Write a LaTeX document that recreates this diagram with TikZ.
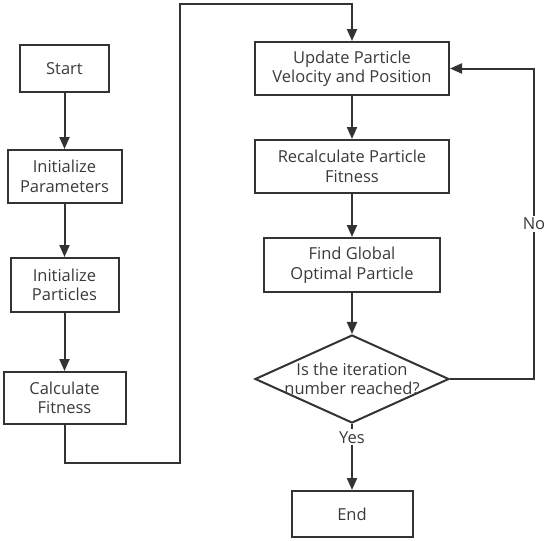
\documentclass[tikz,border=0pt]{standalone}
\usepackage{fontspec}
\setmainfont{Open Sans}
\usetikzlibrary{shapes.geometric,arrows.meta}
\definecolor{linegray}{HTML}{333333}
\definecolor{textgray}{HTML}{3A3A3A}
\tikzset{
  stepbox/.style={draw=linegray, line width=2pt, align=center, inner sep=0pt,
    text=textgray, font=\fontsize{16.5}{19.5}\selectfont},
  decision/.style={draw=linegray, line width=2pt, diamond, aspect=2.2, inner sep=0pt,
    minimum width=194pt, minimum height=88pt},
  arr/.style={draw=linegray, line width=2pt, -{Triangle[length=12pt,width=10pt]}},
  lbl/.style={fill=white, text=textgray, inner sep=2pt, font=\fontsize{16.5}{19.5}\selectfont}
}
\begin{document}
\begin{tikzpicture}[x=1pt,y=-1pt]
\useasboundingbox (0,0) rectangle (550,541);

% left column
\node[stepbox, minimum width=89pt, minimum height=47pt] (start) at (64.5,68.5) {Start};
\node[stepbox, minimum width=114pt, minimum height=53pt] (initpar) at (64.5,176.5) {Initialize\\Parameters};
\node[stepbox, minimum width=108pt, minimum height=54pt] (initpart) at (64.5,285) {Initialize\\Particles};
\node[stepbox, minimum width=122pt, minimum height=52pt] (calcfit) at (64.5,398) {Calculate\\Fitness};

% right column
\node[stepbox, minimum width=194pt, minimum height=53pt] (update) at (352,68.5) {Update Particle\\Velocity and Position};
\node[stepbox, minimum width=194pt, minimum height=53pt] (recalc) at (352,166.5) {Recalculate Particle\\Fitness};
\node[stepbox, minimum width=176pt, minimum height=54pt] (global) at (352,265) {Find Global\\Optimal Particle};
\node[decision] (check) at (352,379) {};
\node[align=center, text=textgray, inner sep=0pt, font=\fontsize{16.5}{19.5}\selectfont] (checktxt) at (check) {Is the iteration\\number reached?};
\node[stepbox, minimum width=121pt, minimum height=46pt] (end) at (352,514) {End};

\coordinate (over) at (180,4);
\coordinate (back) at (534,68.5);

\draw[arr] (start) -- (initpar);
\draw[arr] (initpar) -- (initpart);
\draw[arr] (initpart) -- (calcfit);
\draw[arr] (calcfit.south) -- ++(0,38) -| (over) -| (update.north);
\draw[arr] (update) -- (recalc);
\draw[arr] (recalc) -- (global);
\draw[arr] (global) -- (check);
\draw[arr] (check.south) -- node[lbl, pos=0.2] {Yes} (end.north);
\draw[arr] (check.east) -| node[lbl, pos=0.75] {No} (back) -- (update.east);
\end{tikzpicture}
\end{document}
